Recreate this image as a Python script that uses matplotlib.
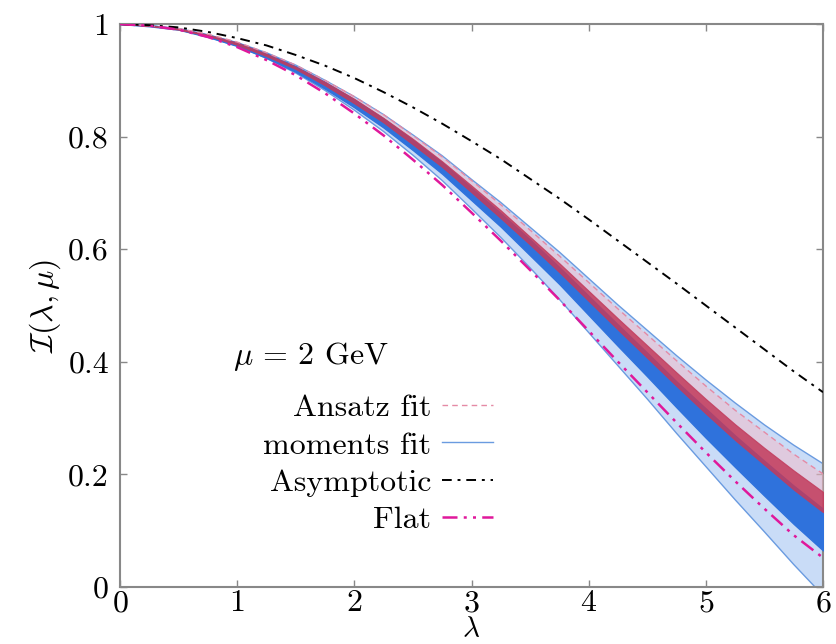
import numpy as np
import matplotlib
matplotlib.use("Agg")
import matplotlib.pyplot as plt

plt.rcParams.update({
    "font.family": "serif",
    "font.serif": ["cmr10"],
    "mathtext.fontset": "cm",
    "axes.formatter.use_mathtext": True,
    "font.size": 23,
})

# Ioffe-time distributions at mu = 2 GeV, sampled every 0.25 in lambda
lam = np.arange(0, 6.01, 0.25)

flat = [1.000, 0.997, 0.990, 0.977, 0.959, 0.936, 0.909, 0.877, 0.841,
        0.802, 0.759, 0.714, 0.665, 0.615, 0.563, 0.510, 0.455, 0.400,
        0.346, 0.292, 0.239, 0.188, 0.139, 0.092, 0.052]
asym = [1.000, 0.998, 0.994, 0.986, 0.975, 0.962, 0.945, 0.926, 0.904,
        0.879, 0.852, 0.823, 0.792, 0.760, 0.725, 0.690, 0.653, 0.615,
        0.577, 0.539, 0.500, 0.461, 0.422, 0.383, 0.346]

# moments fit: central value, inner (dark) and outer (light) half widths
mom = [1.000, 0.997, 0.991, 0.979, 0.964, 0.944, 0.920, 0.891, 0.859,
       0.824, 0.785, 0.744, 0.698, 0.652, 0.603, 0.553, 0.500, 0.447,
       0.395, 0.342, 0.291, 0.241, 0.193, 0.146, 0.102]
mom_in = [0.000, 0.001, 0.001, 0.002, 0.003, 0.004, 0.005, 0.006, 0.007,
          0.008, 0.009, 0.010, 0.011, 0.012, 0.014, 0.015, 0.017, 0.019,
          0.021, 0.023, 0.026, 0.028, 0.031, 0.034, 0.037]
mom_out = [0.000, 0.000, 0.001, 0.002, 0.003, 0.005, 0.007, 0.009, 0.012,
           0.015, 0.018, 0.022, 0.026, 0.031, 0.036, 0.042, 0.048, 0.054,
           0.061, 0.069, 0.077, 0.086, 0.095, 0.106, 0.117]

# Ansatz fit: central value, inner (red) and outer (dashed) half widths
ans = [1.000, 0.997, 0.991, 0.980, 0.965, 0.945, 0.922, 0.894, 0.863,
       0.829, 0.791, 0.751, 0.707, 0.662, 0.615, 0.567, 0.517, 0.467,
       0.418, 0.369, 0.321, 0.275, 0.232, 0.190, 0.151]
ans_in = [0.000, 0.000, 0.001, 0.001, 0.002, 0.002, 0.002, 0.003, 0.004,
          0.004, 0.005, 0.005, 0.006, 0.007, 0.007, 0.008, 0.009, 0.010,
          0.011, 0.012, 0.013, 0.014, 0.015, 0.017, 0.018]
ans_out = [0.000, 0.000, 0.001, 0.002, 0.003, 0.004, 0.005, 0.006, 0.008,
           0.010, 0.011, 0.013, 0.015, 0.017, 0.019, 0.021, 0.024, 0.027,
           0.030, 0.033, 0.036, 0.039, 0.043, 0.046, 0.050]

mom, mom_in, mom_out = map(np.array, (mom, mom_in, mom_out))
ans, ans_in, ans_out = map(np.array, (ans, ans_in, ans_out))

fig = plt.figure(figsize=(8.37, 6.44), dpi=100)
ax = fig.add_axes([0.1434, 0.0885, 0.8399, 0.8742])

# outer moments band with its edges
ax.fill_between(lam, mom - mom_out, mom + mom_out, color="#c9dcf7", lw=0, zorder=1)
ax.plot(lam, mom + mom_out, color="#6a9be0", lw=1.0, zorder=2, label="moments fit")
ax.plot(lam, mom - mom_out, color="#6a9be0", lw=1.0, zorder=2)

# outer Ansatz band
ax.fill_between(lam, ans - ans_out, ans + ans_out, color="#f2bccb", alpha=0.55,
                lw=0, zorder=3)
ax.plot(lam, ans + ans_out, color="#e58aa5", lw=1.0, ls=(0, (4, 3)), zorder=6,
        label="Ansatz fit")

# inner bands
ax.fill_between(lam, mom - mom_in, mom + mom_in, color="#2f72dc", lw=1.0,
                edgecolor="#2f72dc", zorder=4)
ax.fill_between(lam, ans - ans_in, ans + ans_in, color="#c23b5c", alpha=0.85,
                lw=0.8, edgecolor="#c23b5c", zorder=5)

ax.plot(lam, asym, color="black", lw=1.4, ls=(0, (5, 3, 1.5, 3)), zorder=7,
        label="Asymptotic")
ax.plot(lam, flat, color="#e0189b", lw=1.8, ls=(0, (6, 2.5, 1.2, 2.5, 1.2, 2.5)),
        zorder=7, label="Flat")

ax.set_xlim(0, 6)
ax.set_ylim(0, 1)
ax.set_xticks(range(7))
ax.set_yticks([0, 0.2, 0.4, 0.6, 0.8, 1.0])
ax.set_yticklabels(["0", "0.2", "0.4", "0.6", "0.8", "1"])
ax.tick_params(direction="in", top=True, right=True, length=5, width=1,
               color="#888888")
ax.tick_params(axis="x", pad=2)
ax.tick_params(axis="y", pad=8)
for s in ax.spines.values():
    s.set_color("#888888")
    s.set_linewidth(1.5)

ax.set_xlabel(r"$\lambda$", fontsize=21)
ax.xaxis.set_label_coords(0.5, -0.053)
ax.set_ylabel(r"$\mathcal{I}(\lambda,\mu)$", labelpad=4)

ax.text(0.161, 0.409, r"$\mu\,=\,2$ GeV", transform=ax.transAxes,
        ha="left", va="center")

h, l = ax.get_legend_handles_labels()
order = ["Ansatz fit", "moments fit", "Asymptotic", "Flat"]
hs = [h[l.index(k)] for k in order]
ax.legend(hs, order, markerfirst=False, frameon=False, loc="upper right",
          bbox_to_anchor=(0.531, 0.343), borderpad=0, borderaxespad=0,
          handlelength=1.6, handletextpad=0.35, labelspacing=0.28)

fig.savefig("out.png", dpi=100)
